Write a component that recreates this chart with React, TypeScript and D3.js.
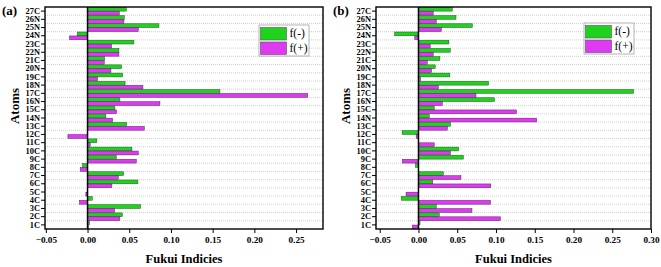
import React, { useEffect, useRef } from "react";
import * as d3 from "d3";

// atoms from bottom (1C) to top (27C)
const atoms = ["1C", "2C", "3C", "4C", "5C", "6C", "7C", "8C", "9C", "10C", "11C", "12C", "13C", "14N", "15C",
  "16N", "17C", "18N", "19C", "20N", "21C", "22N", "23C", "24N", "25N", "26N", "27C"];

// panel (a)
const fMinusA = [0.0024, 0.0416, 0.0636, 0.0056, 0.0, 0.0604, 0.0432, -0.006, 0.0344, 0.0532, 0.0112, 0.0, 0.0468, 0.022, 0.0328,
  0.0388, 0.1587, 0.045, 0.042, 0.0408, 0.0204, 0.0376, 0.0556, -0.0124, 0.0856, 0.044, 0.0464];
const fPlusA = [0.001, 0.0388, 0.0324, -0.0096, -0.002, 0.0292, 0.0368, -0.0088, 0.0584, 0.0608, 0.0032, -0.0235, 0.068, 0.030, 0.0348,
  0.0868, 0.264, 0.0664, 0.012, 0.028, 0.020, 0.0376, 0.0288, -0.0216, 0.0608, 0.0436, 0.038];

// panel (b)
const fMinusB = [0.002, 0.0268, 0.0229, -0.022, 0.0, 0.0185, 0.032, -0.0039, 0.0579, 0.0518, 0.0, -0.0211, 0.0415, 0.0139, 0.0203,
  0.098, 0.2776, 0.0903, 0.0405, 0.0216, 0.0276, 0.041, 0.0393, -0.0307, 0.0695, 0.0484, 0.0436];
const fPlusB = [-0.0078, 0.1058, 0.069, 0.0929, -0.016, 0.0933, 0.0548, 0.0, -0.0207, 0.041, 0.0203, -0.003, 0.0372, 0.1524, 0.1265,
  0.0307, 0.0742, 0.0255, 0.0026, 0.0168, 0.0113, 0.019, 0.0151, -0.0048, 0.0294, 0.0229, 0.019];

const xTicksA = [-0.05, 0, 0.05, 0.1, 0.15, 0.2, 0.25];
const xTicksB = [-0.05, 0, 0.05, 0.1, 0.15, 0.2, 0.25, 0.3];

const GREEN = "#1ed21e";
const MAGENTA = "#dd3bf2";
const SERIF = "Liberation Serif, Times New Roman, serif";

function drawPanel(svg, opts) {
  const { left, right, top, bottom, domain, ticks, minus, plus, tag, legendX, legendY } = opts;

  const x = d3.scaleLinear().domain(domain).range([left, right]);
  const y = d3.scaleBand().domain(atoms.slice().reverse()).range([top, bottom]).padding(0);
  const bw = y.bandwidth();

  const g = svg.append("g").style("font-family", SERIF);

  // dotted grid between rows
  g.selectAll(".grid")
    .data(atoms.slice(0, atoms.length - 1))
    .enter().append("line")
    .attr("x1", left).attr("x2", right)
    .attr("y1", (d) => y(d)).attr("y2", (d) => y(d))
    .attr("stroke", "#c4c4c4")
    .attr("stroke-width", 0.8)
    .attr("stroke-dasharray", "1,1");

  // bars
  g.selectAll(".bm")
    .data(atoms)
    .enter().append("rect")
    .attr("x", (d, i) => x(Math.min(0, minus[i])))
    .attr("y", (d) => y(d) + bw * 0.04)
    .attr("width", (d, i) => Math.abs(x(minus[i]) - x(0)))
    .attr("height", bw * 0.46)
    .attr("fill", GREEN)
    .attr("stroke", "#1a5a1a")
    .attr("stroke-width", 0.5);

  g.selectAll(".bp")
    .data(atoms)
    .enter().append("rect")
    .attr("x", (d, i) => x(Math.min(0, plus[i])))
    .attr("y", (d) => y(d) + bw * 0.52)
    .attr("width", (d, i) => Math.abs(x(plus[i]) - x(0)))
    .attr("height", bw * 0.46)
    .attr("fill", MAGENTA)
    .attr("stroke", "#5a1a60")
    .attr("stroke-width", 0.5);

  // zero line
  g.append("line")
    .attr("x1", x(0)).attr("x2", x(0))
    .attr("y1", top).attr("y2", bottom)
    .attr("stroke", "#000").attr("stroke-width", 1.5);

  // frame
  g.append("rect")
    .attr("x", left).attr("y", top)
    .attr("width", right - left).attr("height", bottom - top)
    .attr("fill", "none").attr("stroke", "#000").attr("stroke-width", 1.4);

  // y axis
  const yAxis = d3.axisLeft(y).tickSize(4).tickPadding(1);
  const ya = g.append("g").attr("transform", "translate(" + left + ",0)").call(yAxis);
  ya.select(".domain").remove();
  ya.selectAll("line").attr("stroke-width", 1);
  ya.selectAll("text")
    .style("font-family", SERIF).style("font-weight", "bold").style("font-size", "8.4px").attr("fill", "#000");

  // x axis
  const xAxis = d3.axisBottom(x).tickValues(ticks).tickFormat(d3.format(".2f")).tickSize(4).tickPadding(3);
  const xa = g.append("g").attr("transform", "translate(0," + bottom + ")").call(xAxis);
  xa.select(".domain").remove();
  xa.selectAll("line").attr("stroke-width", 1);
  xa.selectAll("text")
    .style("font-family", SERIF).style("font-weight", "bold").style("font-size", "9.2px").attr("fill", "#000");

  // titles
  g.append("text")
    .attr("x", (left + right) / 2).attr("y", 263)
    .attr("text-anchor", "middle")
    .style("font-family", SERIF).style("font-weight", "bold").style("font-size", "12.5px")
    .text("Fukui Indicies");

  g.append("text")
    .attr("transform", "translate(" + (left - 26) + ",106) rotate(-90)")
    .attr("text-anchor", "middle")
    .style("font-family", SERIF).style("font-weight", "bold").style("font-size", "13px")
    .text("Atoms");

  g.append("text")
    .attr("x", left - 43).attr("y", 15)
    .style("font-family", SERIF).style("font-weight", "bold").style("font-size", "13px")
    .text(tag);

  // legend
  const lg = g.append("g").attr("transform", "translate(" + legendX + "," + legendY + ")");
  lg.append("rect").attr("x", 0).attr("y", 0).attr("width", 50).attr("height", 31)
    .attr("fill", "#fff").attr("stroke", "#a0a0a0").attr("stroke-width", 0.8);
  const items = [["f(-)", GREEN], ["f(+)", MAGENTA]];
  items.forEach((it, i) => {
    lg.append("rect").attr("x", 1.5).attr("y", 2.5 + i * 14.5).attr("width", 26).attr("height", 12.5)
      .attr("fill", it[1]).attr("stroke", "#555").attr("stroke-width", 0.6);
    lg.append("text").attr("x", 30.5).attr("y", 12 + i * 14.5)
      .style("font-family", SERIF).style("font-size", "11.5px").text(it[0]);
  });
}

export default function App() {
  const ref = useRef(null);

  useEffect(() => {
    const svg = d3.select(ref.current);
    svg.selectAll("*").remove();

    drawPanel(svg, {
      left: 45, right: 323, top: 7, bottom: 229,
      domain: [-0.051, 0.2823], ticks: xTicksA,
      minus: fMinusA, plus: fPlusA, tag: "(a)", legendX: 259, legendY: 25,
    });

    drawPanel(svg, {
      left: 376, right: 651, top: 7, bottom: 229,
      domain: [-0.0548, 0.3], ticks: xTicksB,
      minus: fMinusB, plus: fPlusB, tag: "(b)", legendX: 584, legendY: 23,
    });
  }, []);

  return (
    <svg ref={ref} width={661} height={267}
      style={{ position: "absolute", left: 0, top: 0, background: "#fff" }} />
  );
}
